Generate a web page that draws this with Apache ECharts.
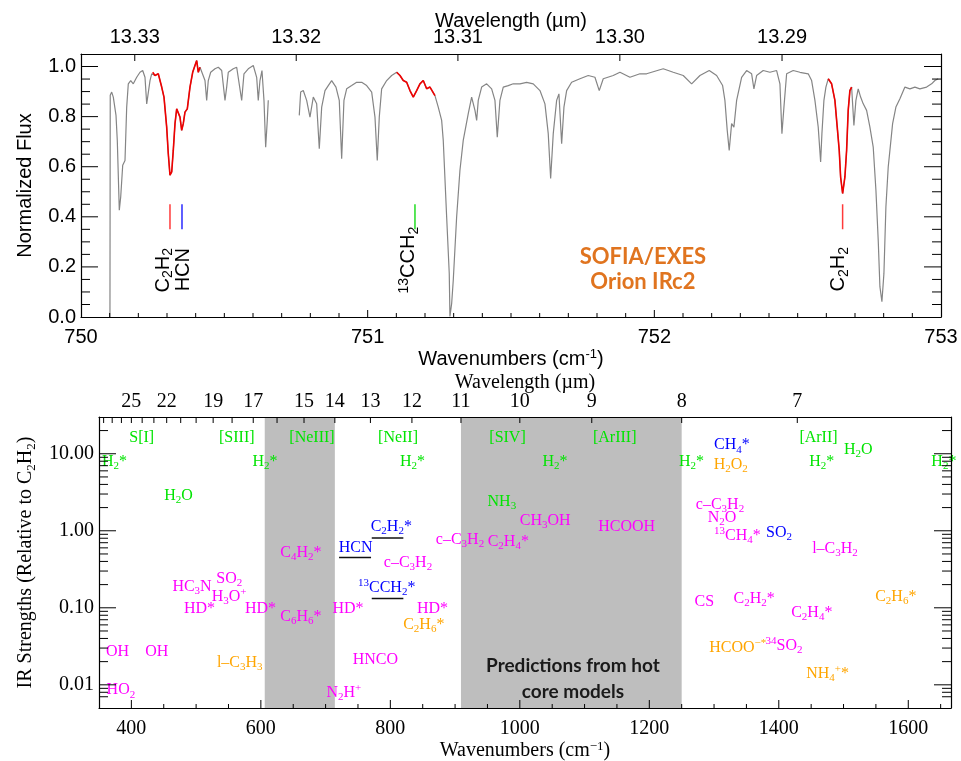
<!DOCTYPE html>
<html><head><meta charset="utf-8">
<script src="https://cdn.jsdelivr.net/npm/echarts@6/dist/echarts.min.js"></script>
<style>html,body{margin:0;padding:0;background:#fff}#c{width:961px;height:761px}</style>
</head><body><div id="c"></div>
<script>
// ---------------- DATA ----------------
// Top panel: SOFIA/EXES spectrum (wavenumber cm-1, normalized flux), two segments with a gap
const spectrumSeg1 = [[750.101,0.0],[750.102,0.885],[750.1071,0.898],[750.1127,0.878],[750.1221,0.805],[750.1266,0.705],[750.1336,0.426],[750.1385,0.479],[750.1455,0.606],[750.1535,0.625],[750.1594,0.838],[750.1650,0.931],[750.1734,0.944],[750.1824,0.931],[750.1943,0.957],[750.2058,0.977],[750.2152,0.984],[750.2232,0.957],[750.2292,0.851],[750.2347,0.858],[750.2407,0.944],[750.2466,0.971],[750.2501,0.977],[750.2581,0.964],[750.2696,0.971],[750.2815,0.918],[750.2895,0.878],[750.2989,0.758],[750.3045,0.652],[750.3104,0.566],[750.3164,0.579],[750.3219,0.665],[750.3279,0.772],[750.3338,0.831],[750.3394,0.838],[750.3453,0.798],[750.3512,0.745],[750.3568,0.772],[750.3627,0.818],[750.3708,0.831],[750.3802,0.918],[750.3896,0.977],[750.3976,1.004],[750.4036,1.024],[750.4091,0.977],[750.4151,0.997],[750.4210,0.997],[750.4325,0.944],[750.4384,0.865],[750.4440,0.944],[750.4524,0.977],[750.4674,0.991],[750.4789,0.997],[750.4908,0.984],[750.5023,0.865],[750.5082,0.918],[750.5138,0.977],[750.5312,0.991],[750.5431,0.997],[750.5605,0.865],[750.5685,0.971],[750.5835,0.991],[750.6010,1.004],[750.6128,0.957],[750.6184,0.865],[750.6243,0.944],[750.6313,0.984],[750.6383,0.865],[750.6442,0.678],[750.6498,0.785],[750.6533,0.865]];
const spectrumSeg2 = [[750.7614,0.805],[750.7663,0.898],[750.7754,0.904],[750.7872,0.865],[750.7987,0.798],[750.8103,0.878],[750.8221,0.851],[750.8312,0.672],[750.8396,0.838],[750.8511,0.904],[750.8626,0.924],[750.8744,0.944],[750.8894,0.918],[750.9009,0.865],[750.9093,0.632],[750.9173,0.865],[750.9267,0.911],[750.9442,0.924],[750.9616,0.937],[750.9791,0.937],[750.9965,0.924],[751.0140,0.898],[751.0255,0.798],[751.0335,0.625],[751.0405,0.798],[751.0488,0.911],[751.0663,0.944],[751.0837,0.964],[751.1011,0.977],[751.1127,0.964],[751.1242,0.944],[751.1360,0.937],[751.1475,0.904],[751.1591,0.878],[751.1709,0.904],[751.1824,0.931],[751.1939,0.944],[751.2058,0.911],[751.2173,0.918],[751.2347,0.884],[751.2462,0.838],[751.2581,0.785],[751.2637,0.705],[751.2755,0.400],[751.2846,0.174],[751.2870,0.002],[751.2930,0.054],[751.2986,0.147],[751.3104,0.400],[751.3219,0.586],[751.3334,0.705],[751.3509,0.812],[751.3627,0.878],[751.3743,0.825],[751.3802,0.785],[751.3858,0.865],[751.3976,0.918],[751.4151,0.931],[751.4325,0.911],[751.4440,0.865],[751.4521,0.718],[751.4614,0.865],[751.4730,0.918],[751.4904,0.924],[751.5079,0.931],[751.5312,0.931],[751.5546,0.937],[751.5776,0.931],[751.6010,0.904],[751.6184,0.851],[751.6299,0.732],[751.6383,0.553],[751.6474,0.732],[751.6592,0.865],[751.6672,0.891],[751.6767,0.692],[751.6847,0.838],[751.6941,0.904],[751.7115,0.937],[751.7405,0.951],[751.7695,0.964],[751.7928,0.957],[751.8078,0.904],[751.8218,0.951],[751.8566,0.964],[751.8800,0.977],[751.9149,0.957],[751.9498,0.971],[751.9731,0.971],[752.0310,0.991],[752.0659,0.977],[752.1008,0.964],[752.1301,0.931],[752.1591,0.964],[752.1915,0.984],[752.2173,0.964],[752.2382,0.924],[752.2462,0.865],[752.2543,0.745],[752.2612,0.665],[752.2696,0.772],[752.2776,0.758],[752.2871,0.865],[752.3045,0.957],[752.3219,0.984],[752.3394,0.971],[752.3474,0.911],[752.3568,0.964],[752.3798,0.984],[752.4032,0.977],[752.4266,0.984],[752.4381,0.931],[752.4451,0.732],[752.4521,0.838],[752.4615,0.971],[752.4845,0.984],[752.5079,0.977],[752.5368,0.971],[752.5487,0.944],[752.5602,0.865],[752.5717,0.758],[752.5801,0.619],[752.5846,0.732],[752.5916,0.865],[752.5985,0.918],[752.6066,0.951],[752.6184,0.931],[752.6299,0.865],[752.6380,0.758],[752.6450,0.665],[752.6498,0.559],[752.6568,0.493],[752.6648,0.559],[752.6707,0.665],[752.6763,0.825],[752.6822,0.904],[752.6882,0.918],[752.6962,0.765],[752.7032,0.865],[752.7112,0.911],[752.7196,0.878],[752.7287,0.851],[752.7405,0.825],[752.7520,0.758],[752.7636,0.678],[752.7730,0.506],[752.7810,0.307],[752.7869,0.121],[752.7939,0.061],[752.8009,0.174],[752.8078,0.439],[752.8159,0.599],[752.8218,0.665],[752.8312,0.772],[752.8427,0.838],[752.8567,0.871],[752.8741,0.918],[752.8916,0.911],[752.9090,0.918],[752.9264,0.911],[752.9498,0.918],[752.9672,0.931],[752.9787,0.944],[752.9902,0.951]];
const redRanges = [[750.2501,750.4151],[751.1011,751.2347],[752.6066,752.6882]];
const markerWn = [750.3104, 750.3523, 751.165, 752.6568];
const markerColors = ['#ff3a3a', '#2a2aff', '#22dd22', '#ff3a3a'];
const markerSpan = [0.35, 0.45];
const specLabels = [['C{s|2}H{s|2}', 750.286, 0.187], ['HCN', 750.356, 0.189], ['{p|13}CCH{s|2}', 751.144, 0.227], ['C{s|2}H{s|2}', 752.644, 0.191]];
const topWlTicks = [13.33, 13.32, 13.31, 13.30, 13.29];
const topWnTickMarks = [750.1,750.2,750.3,750.4,750.5,750.6,750.7,750.8,750.9,751,751.1,751.2,751.3,751.4,751.5,751.6,751.7,751.8,751.9,752,752.1,752.2,752.3,752.4,752.5,752.6,752.7,752.8,752.9];
const fluxTickMarks = [0.05,0.1,0.15,0.2,0.25,0.3,0.35,0.4,0.45,0.5,0.55,0.6,0.65,0.7,0.75,0.8,0.85,0.9,0.95,1.0];

// Bottom panel: predicted IR strengths (wavenumber, strength relative to C2H2)
const shadeRanges = [[606, 714.3], [909.1, 1250]];
const greenLabels = [['S[I]',416,16],['[SIII]',562.8,16],['[NeIII]',679,16],['[NeII]',811.9,16],['[SIV]',981,16],['[ArIII]',1146.6,16],['[ArII]',1461.3,16],
  ['H{s|2}*',374,7.8],['H{s|2}*',606.5,7.8],['H{s|2}*',834.3,7.8],['H{s|2}*',1054.4,7.8],['H{s|2}*',1265.2,7.8],['H{s|2}*',1466.4,7.8],['H{s|2}*',1655,7.8],
  ['H{s|2}O',472.9,2.87],['H{s|2}O',1522.8,11.2],['NH{s|3}',972.2,2.40]];
const magentaLabels = [['C{s|4}H{s|2}*',661.8,0.514],['c–C{s|3}H{s|2}',827.3,0.381],['c–C{s|3}H{s|2}',907.6,0.764],['CH{s|3}OH',1039.2,1.36],['HCOOH',1165.1,1.117],
  ['C{s|2}H{s|4}*',982.2,0.714],['c–C{s|3}H{s|2}',1309.2,2.17],['N{s|2}O',1312.3,1.49],['{p|13}CH{s|4}*',1336.2,0.87],['l–C{s|3}H{s|2}',1486.8,0.584],
  ['SO{s|2}',551.2,0.239],['HC{s|3}N',493.7,0.19],['H{s|3}O{p|+}',550.9,0.141],['HD*',505.3,0.0977],['HD*',599.5,0.0977],['C{s|6}H{s|6}*',661.8,0.0775],
  ['HD*',734.7,0.0977],['HD*',865.2,0.0977],['OH',378.7,0.0266],['OH',439.2,0.0266],['HNCO',776.8,0.0213],['HO{s|2}',383.8,0.00853],['N{s|2}H{p|+}',728.2,0.00793],
  ['CS',1285,0.119],['C{s|2}H{s|2}*',1362,0.132],['C{s|2}H{s|4}*',1451,0.0873],['{p|34}SO{s|2}',1408,0.0322]];
const blueLabels = [['C{s|2}H{s|2}*',801.5,1.14],['HCN',746.3,0.608],['{p|13}CCH{s|2}*',794.4,0.181],['CH{s|4}*',1327.7,12.9],['SO{s|2}',1400.3,0.95]];
const orangeLabels = [['H{s|2}O{s|2}',1325.7,7.17],['C{s|2}H{s|6}*',851.7,0.0605],['l–C{s|3}H{s|3}',567.4,0.0196],['C{s|2}H{s|6}*',1580.7,0.141],['HCOO{p|−*}',1336.7,0.0303],['NH{s|4}{p|+}*',1475.5,0.0141]];
const underlines = [[[720.8,0.45],[770.2,0.45]], [[771.3,0.804],[820.1,0.804]], [[771.3,0.132],[820.1,0.132]]];
const botWnTickMarks = [400,450,500,550,600,650,700,750,800,850,900,950,1000,1050,1100,1150,1200,1250,1300,1350,1400,1450,1500,1550,1600,1650];
const botWlTicks = [28,27,26,25,24,23,22,21,20,19,18,17,16,15,14,13,12,11,10,9,8,7];
const botWlLabels = [25,22,19,17,15,14,13,12,11,10,9,8,7];
const strengthTicks = [0.01, 0.1, 1, 10];
const strengthTickMarks = [0.006,0.007,0.008,0.009,0.01,0.02,0.03,0.04,0.05,0.06,0.07,0.08,0.09,0.1,0.2,0.3,0.4,0.5,0.6,0.7,0.8,0.9,1,2,3,4,5,6,7,8,9,10,20];

// ---------------- CHART ----------------
const SANS = '"Liberation Sans", Arial, sans-serif';
const SERIF = '"Liberation Serif", "Times New Roman", serif';
const chart = echarts.init(document.getElementById('c'), null, {renderer: 'canvas'});

function rich(color, family, size, lh) {
  return {
    s: {color, fontFamily: family, fontSize: size, lineHeight: lh, verticalAlign: 'bottom'},
    p: {color, fontFamily: family, fontSize: size, lineHeight: lh, verticalAlign: 'top'}
  };
}
const LINE = {show: true, onZero: false, lineStyle: {color: '#000', width: 1.2}};
const NOLINE = {show: false};
const NOSPLIT = {show: false};
const NOTICK = {show: false};
const isMult = (v, step) => Math.abs(v / step - Math.round(v / step)) < 1e-6;
// tick marks drawn by the axis as small bars (major / minor lengths)
function barTicks(vals, horizontal, isMajor, majLen, minLen) {
  const bar = len => horizontal ? {width: len, height: 1, backgroundColor: '#000'} : {width: 1, height: len, backgroundColor: '#000'};
  return {show: true, inside: true, margin: 0, customValues: vals,
    formatter: v => isMajor(v) ? '{M|}' : '{m|}',
    rich: {M: bar(majLen), m: bar(minLen)}};
}
const isDecade = v => Math.abs(Math.log10(v) - Math.round(Math.log10(v))) < 1e-6;

const inRed = w => redRanges.some(r => w >= r[0] - 1e-6 && w <= r[1] + 1e-6);
const allPts = spectrumSeg1.concat([[750.70, null]], spectrumSeg2);
const redData = allPts.map(p => (p[1] !== null && inRed(p[0])) ? p : [p[0], null]);

const HIDDEN_ITEM = {color: 'rgba(0,0,0,0)', opacity: 1};
function labelSeries(list, color) {
  return {
    type: 'scatter', xAxisIndex: 4, yAxisIndex: 4, z: 6, symbolSize: 1, silent: true,
    itemStyle: HIDDEN_ITEM,
    data: list.map(d => ({name: d[0], value: [d[1], d[2]]})),
    label: {show: true, position: 'inside', opacity: 1, formatter: p => p.name, color, fontFamily: SERIF, fontSize: 16, lineHeight: 20,
      rich: rich(color, SERIF, 11, 10)}
  };
}

const option = {
  animation: false,
  backgroundColor: '#fff',
  textStyle: {fontFamily: SANS},
  grid: [
    {left: 81, width: 860, top: 54, height: 263, outerBoundsMode: 'none'},
    {left: 81, width: 860, top: 54, height: 263, outerBoundsMode: 'none'},
    {left: 99, width: 852, top: 417, height: 291, outerBoundsMode: 'none'},
    {left: 99, width: 852, top: 417, height: 291, outerBoundsMode: 'none'}
  ],
  xAxis: [
    // 0: top panel, bottom, wavenumber labels
    {gridIndex: 0, type: 'value', position: 'bottom', min: 750, max: 753, interval: 1, z: 10, axisLine: LINE, splitLine: NOSPLIT, axisTick: NOTICK,
      axisLabel: {margin: 10, color: '#000', fontSize: 20, fontFamily: SANS, formatter: v => String(Math.round(v))},
      name: 'Wavenumbers (cm{p|-1})', nameLocation: 'middle', nameGap: 31, nameMoveOverlap: false,
      nameTextStyle: {color: '#000', fontSize: 20, fontFamily: SANS, lineHeight: 22, rich: rich('#000', SANS, 13, 10)}},
    // 1: top panel, top, wavelength labels
    {gridIndex: 0, type: 'value', position: 'top', min: 750, max: 753, z: 10, axisLine: LINE, splitLine: NOSPLIT, axisTick: NOTICK,
      axisLabel: {customValues: topWlTicks.map(l => 10000 / l), margin: 7, color: '#000', fontSize: 20, fontFamily: SANS, formatter: v => (10000 / v).toFixed(2)},
      name: 'Wavelength (µm)', nameLocation: 'middle', nameGap: 23, nameMoveOverlap: false,
      nameTextStyle: {color: '#000', fontSize: 20, fontFamily: SANS}},
    // 2: top panel bottom tick marks
    {gridIndex: 1, type: 'value', position: 'bottom', min: 750, max: 753, z: 10, axisLine: NOLINE, splitLine: NOSPLIT, axisTick: NOTICK,
      axisLabel: barTicks(topWnTickMarks, false, v => isMult(v, 1), 7, 4)},
    // 3: top panel top tick marks (wavelength)
    {gridIndex: 1, type: 'value', position: 'top', min: 750, max: 753, z: 10, axisLine: NOLINE, splitLine: NOSPLIT, axisTick: NOTICK,
      axisLabel: barTicks(topWlTicks.map(l => 10000 / l), false, () => true, 7, 7)},
    // 4: bottom panel, bottom, wavenumber labels
    {gridIndex: 2, type: 'value', position: 'bottom', min: 350, max: 1666, interval: 50, z: 10, axisLine: LINE, splitLine: NOSPLIT, axisTick: NOTICK,
      axisLabel: {margin: 11, color: '#000', fontSize: 20, fontFamily: SERIF, showMinLabel: false, showMaxLabel: false,
        formatter: v => isMult(v, 200) ? String(Math.round(v)) : ''},
      name: 'Wavenumbers (cm{p|−1})', nameLocation: 'middle', nameGap: 32, nameMoveOverlap: false,
      nameTextStyle: {color: '#000', fontSize: 20, fontFamily: SERIF, lineHeight: 22, rich: rich('#000', SERIF, 13, 10)}},
    // 5: bottom panel, top, wavelength labels
    {gridIndex: 2, type: 'value', position: 'top', min: 350, max: 1666, z: 10, axisLine: LINE, splitLine: NOSPLIT, axisTick: NOTICK,
      axisLabel: {customValues: botWlLabels.map(l => 10000 / l), margin: 5, color: '#000', fontSize: 20, fontFamily: SERIF, formatter: v => String(Math.round(10000 / v))},
      name: 'Wavelength (µm)', nameLocation: 'middle', nameGap: 24, nameMoveOverlap: false,
      nameTextStyle: {color: '#000', fontSize: 20, fontFamily: SERIF}},
    // 6: bottom panel bottom tick marks
    {gridIndex: 3, type: 'value', position: 'bottom', min: 350, max: 1666, z: 10, axisLine: NOLINE, splitLine: NOSPLIT, axisTick: NOTICK,
      axisLabel: barTicks(botWnTickMarks, false, v => isMult(v, 200), 8, 4)},
    // 7: bottom panel top tick marks (wavelength)
    {gridIndex: 3, type: 'value', position: 'top', min: 350, max: 1666, z: 10, axisLine: NOLINE, splitLine: NOSPLIT, axisTick: NOTICK,
      axisLabel: barTicks(botWlTicks.map(l => 10000 / l), false, () => true, 6, 6)}
  ],
  yAxis: [
    {gridIndex: 0, type: 'value', position: 'left', min: 0, max: 1.05, interval: 0.2, z: 10, axisLine: LINE, splitLine: NOSPLIT, axisTick: NOTICK,
      axisLabel: {margin: 5, color: '#000', fontSize: 20, fontFamily: SANS, formatter: v => isMult(v, 0.2) ? v.toFixed(1) : ''},
      name: 'Normalized Flux', nameLocation: 'middle', nameGap: 46, nameMoveOverlap: false,
      nameTextStyle: {color: '#000', fontSize: 20, fontFamily: SANS}},
    {gridIndex: 0, type: 'value', position: 'right', min: 0, max: 1.05, z: 10, axisLine: LINE, splitLine: NOSPLIT, axisTick: NOTICK, axisLabel: {show: false}},
    {gridIndex: 1, type: 'value', position: 'left', min: 0, max: 1.05, z: 10, axisLine: NOLINE, splitLine: NOSPLIT, axisTick: NOTICK,
      axisLabel: barTicks(fluxTickMarks, true, v => isMult(v, 0.2), 17, 9)},
    {gridIndex: 1, type: 'value', position: 'right', min: 0, max: 1.05, z: 10, axisLine: NOLINE, splitLine: NOSPLIT, axisTick: NOTICK,
      axisLabel: barTicks(fluxTickMarks, true, v => isMult(v, 0.2), 17, 9)},
    {gridIndex: 2, type: 'log', logBase: 10, position: 'left', min: 0.005, max: 30, z: 10, axisLine: LINE, splitLine: NOSPLIT, axisTick: NOTICK,
      axisLabel: {customValues: strengthTicks, margin: 5, color: '#000', fontSize: 20, fontFamily: SERIF, formatter: v => Number(v).toFixed(2)},
      name: 'IR Strengths (Relative to C{s|2}H{s|2})', nameLocation: 'middle', nameGap: 61, nameMoveOverlap: false,
      nameTextStyle: {color: '#000', fontSize: 20, fontFamily: SERIF, lineHeight: 24, rich: rich('#000', SERIF, 13, 12)}},
    {gridIndex: 2, type: 'log', logBase: 10, position: 'right', min: 0.005, max: 30, z: 10, axisLine: LINE, splitLine: NOSPLIT, axisTick: NOTICK, axisLabel: {show: false}},
    {gridIndex: 3, type: 'log', logBase: 10, position: 'left', min: 0.005, max: 30, z: 10, axisLine: NOLINE, splitLine: NOSPLIT, axisTick: NOTICK,
      axisLabel: barTicks(strengthTickMarks, true, isDecade, 17, 9)},
    {gridIndex: 3, type: 'log', logBase: 10, position: 'right', min: 0.005, max: 30, z: 10, axisLine: NOLINE, splitLine: NOSPLIT, axisTick: NOTICK,
      axisLabel: barTicks(strengthTickMarks, true, isDecade, 17, 9)}
  ],
  series: [
    {type: 'line', xAxisIndex: 0, yAxisIndex: 0, data: allPts, symbol: 'none', silent: true, connectNulls: false,
      lineStyle: {color: '#858585', width: 1.2}, z: 2},
    {type: 'line', xAxisIndex: 0, yAxisIndex: 0, data: redData, symbol: 'none', silent: true, connectNulls: false,
      lineStyle: {color: '#f00000', width: 1.6}, z: 3},
    ...markerWn.map((w, i) => ({type: 'line', xAxisIndex: 0, yAxisIndex: 0, symbol: 'none', silent: true,
      data: [[w, markerSpan[0]], [w, markerSpan[1]]], lineStyle: {color: markerColors[i], width: 1.5}, z: 3})),
    {type: 'scatter', xAxisIndex: 0, yAxisIndex: 0, symbolSize: 1, silent: true, itemStyle: HIDDEN_ITEM, z: 5,
      data: specLabels.map(d => ({name: d[0], value: [d[1], d[2]]})),
      label: {show: true, position: 'inside', opacity: 1, rotate: 90, formatter: p => p.name, color: '#000', fontFamily: SANS, fontSize: 20, lineHeight: 24,
        rich: rich('#000', SANS, 14, 12)}},
    {type: 'scatter', xAxisIndex: 0, yAxisIndex: 0, symbolSize: 1, silent: true, itemStyle: HIDDEN_ITEM, z: 5,
      data: [{name: 'SOFIA/EXES\nOrion IRc2', value: [751.96, 0.189]}],
      label: {show: true, position: 'inside', opacity: 1, formatter: p => p.name, color: '#e0741f', fontFamily: 'Lato, "Open Sans", sans-serif', fontWeight: 'bold', fontSize: 22, lineHeight: 25}},
    // bottom panel shaded wavelength ranges
    {type: 'line', xAxisIndex: 4, yAxisIndex: 4, data: [[360, 1]], symbol: 'none', silent: true, lineStyle: {opacity: 0}, z: 1,
      markArea: {silent: true, itemStyle: {color: '#bebebe', opacity: 1}, data: shadeRanges.map(r => [{xAxis: r[0]}, {xAxis: r[1]}])}},
    ...underlines.map(u => ({type: 'line', xAxisIndex: 4, yAxisIndex: 4, data: u, symbol: 'none', silent: true, lineStyle: {color: '#111', width: 1.5}, z: 4})),
    labelSeries(greenLabels, '#00e400'),
    labelSeries(magentaLabels, '#ff00ff'),
    labelSeries(blueLabels, '#0000ff'),
    labelSeries(orangeLabels, '#ffa500'),
    {type: 'scatter', xAxisIndex: 4, yAxisIndex: 4, symbolSize: 1, silent: true, itemStyle: HIDDEN_ITEM, z: 6,
      data: [{name: 'Predictions from hot\ncore models', value: [1082, 0.0121]}],
      label: {show: true, position: 'inside', opacity: 1, formatter: p => p.name, color: '#1a1a1a', fontFamily: 'Lato, "Open Sans", sans-serif', fontWeight: 'bold', fontSize: 19, lineHeight: 26}}
  ]
};
chart.setOption(option);
</script></body></html>
